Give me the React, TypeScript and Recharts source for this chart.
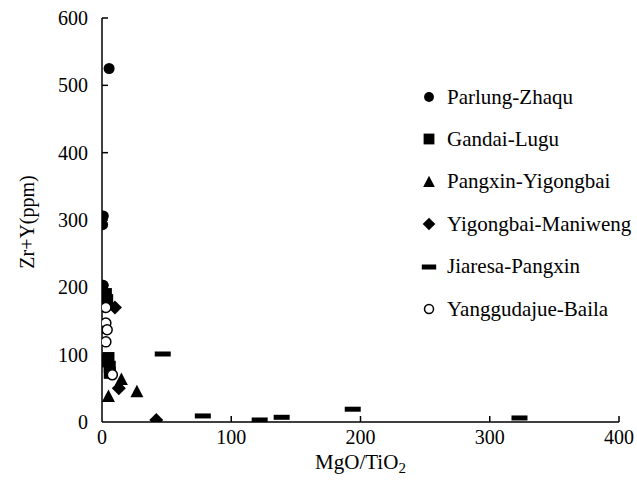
import { ScatterChart, Scatter, XAxis, YAxis } from 'recharts';

// MgO/TiO2 vs Zr+Y (ppm)
const parlungZhaqu = [
  { x: 5.5, y: 525 }, { x: 1, y: 306 }, { x: 0.5, y: 293 }, { x: 1, y: 203 },
  { x: 0.3, y: 192 }, { x: 0.8, y: 186 },
];
const gandaiLugu = [
  { x: 3, y: 190 }, { x: 4, y: 181 }, { x: 1, y: 140 }, { x: 5, y: 95 },
  { x: 2, y: 90 }, { x: 6, y: 82 }, { x: 6, y: 73 },
];
const pangxinYigongbai = [{ x: 5, y: 38 }, { x: 15, y: 63 }, { x: 27, y: 45 }];
const yigongbaiManiweng = [{ x: 10, y: 170 }, { x: 13, y: 50 }, { x: 42, y: 3 }];
const jiaresaPangxin = [
  { x: 47, y: 101 }, { x: 78, y: 9 }, { x: 122, y: 3 }, { x: 139, y: 7 },
  { x: 194, y: 19 }, { x: 323, y: 6 },
];
const yanggudajueBaila = [
  { x: 3, y: 170 }, { x: 3, y: 147 }, { x: 4, y: 137 }, { x: 3, y: 119 }, { x: 8, y: 70 },
];

const xTicks = [0, 100, 200, 300, 400];
const yTicks = [0, 100, 200, 300, 400, 500, 600];

const FONT = '"Liberation Serif", "Times New Roman", serif';

type Kind = 'circle' | 'square' | 'triangle' | 'diamond' | 'dash' | 'open';

function Marker({ kind, cx, cy, s = 1 }: { kind: Kind; cx: number; cy: number; s?: number }) {
  switch (kind) {
    case 'circle':
      return <circle cx={cx} cy={cy} r={5.5 * s} fill="#000" />;
    case 'square':
      return <rect x={cx - 6 * s} y={cy - 6 * s} width={12 * s} height={12 * s} fill="#000" />;
    case 'triangle':
      return (
        <polygon
          points={`${cx},${cy - 7 * s} ${cx + 6.5 * s},${cy + 5.5 * s} ${cx - 6.5 * s},${cy + 5.5 * s}`}
          fill="#000"
        />
      );
    case 'diamond':
      return (
        <polygon
          points={`${cx},${cy - 7 * s} ${cx + 7 * s},${cy} ${cx},${cy + 7 * s} ${cx - 7 * s},${cy}`}
          fill="#000"
        />
      );
    case 'dash':
      return <rect x={cx - 8 * s} y={cy - 2.5} width={16 * s} height={5} fill="#000" />;
    default:
      return <circle cx={cx} cy={cy} r={5 * s} fill="#fff" stroke="#000" strokeWidth={1.5} />;
  }
}

const series: { name: string; data: { x: number; y: number }[]; kind: Kind }[] = [
  { name: 'Parlung-Zhaqu', data: parlungZhaqu, kind: 'circle' },
  { name: 'Gandai-Lugu', data: gandaiLugu, kind: 'square' },
  { name: 'Pangxin-Yigongbai', data: pangxinYigongbai, kind: 'triangle' },
  { name: 'Yigongbai-Maniweng', data: yigongbaiManiweng, kind: 'diamond' },
  { name: 'Jiaresa-Pangxin', data: jiaresaPangxin, kind: 'dash' },
  { name: 'Yanggudajue-Baila', data: yanggudajueBaila, kind: 'open' },
];

const XTick = (props: any) => {
  const { x, y, payload } = props;
  return (
    <g>
      {payload.value !== 0 && <line x1={x} y1={y} x2={x} y2={y - 6} stroke="#000" strokeWidth={1.5} />}
      <text x={x} y={y + 22} textAnchor="middle" fontFamily={FONT} fontSize={20} fill="#000">
        {payload.value}
      </text>
    </g>
  );
};

const YTick = (props: any) => {
  const { x, y, payload } = props;
  return (
    <g>
      {payload.value !== 0 && <line x1={x} y1={y} x2={x + 6} y2={y} stroke="#000" strokeWidth={1.5} />}
      <text x={x - 14} y={y + 7} textAnchor="end" fontFamily={FONT} fontSize={20} fill="#000">
        {payload.value}
      </text>
    </g>
  );
};

function LegendBox() {
  return (
    <div style={{ position: 'absolute', left: 0, top: 0, fontFamily: FONT, fontSize: 21, color: '#000' }}>
      {series.map((s, i) => (
        <div
          key={s.name}
          style={{
            position: 'absolute',
            left: 420,
            top: 97 + i * 42.4 - 12,
            height: 24,
            display: 'flex',
            alignItems: 'center',
            whiteSpace: 'nowrap',
          }}
        >
          <svg width={18} height={18} style={{ marginRight: 9 }}>
            <Marker kind={s.kind} cx={9} cy={9} s={0.9} />
          </svg>
          <span>{s.name}</span>
        </div>
      ))}
    </div>
  );
}

export default function App() {
  return (
    <div style={{ position: 'absolute', left: 0, top: 0, width: 637, height: 488, background: '#fff' }}>
      <ScatterChart width={637} height={488} margin={{ top: 18, right: 18, bottom: 0, left: 0 }}>
        <XAxis
          type="number"
          dataKey="x"
          domain={[0, 400]}
          ticks={xTicks}
          tick={<XTick />}
          tickLine={false}
          tickSize={0}
          tickMargin={0}
          height={66}
          stroke="#000"
          strokeWidth={1.5}
          allowDataOverflow
          label={(p: any) => {
            const vb = p.viewBox;
            return (
              <text x={vb.x + vb.width / 2} y={469} textAnchor="middle" fontFamily={FONT} fontSize={21} fill="#000">
                MgO/TiO<tspan fontSize={15} dy={4}>2</tspan>
              </text>
            );
          }}
        />
        <YAxis
          type="number"
          dataKey="y"
          domain={[0, 600]}
          ticks={yTicks}
          tick={<YTick />}
          tickLine={false}
          tickSize={0}
          tickMargin={0}
          width={102}
          stroke="#000"
          strokeWidth={1.5}
          allowDataOverflow
          label={(p: any) => {
            const vb = p.viewBox;
            const cy = vb.y + vb.height / 2 + 2;
            return (
              <text
                x={27}
                y={cy}
                transform={`rotate(-90, 27, ${cy})`}
                textAnchor="middle"
                dominantBaseline="central"
                fontFamily={FONT}
                fontSize={20}
                fill="#000"
              >
                Zr+Y(ppm)
              </text>
            );
          }}
        />
        {series.map((s) => (
          <Scatter
            key={s.name}
            name={s.name}
            data={s.data}
            isAnimationActive={false}
            shape={(p: any) => <Marker kind={s.kind} cx={p.cx} cy={p.cy} />}
          />
        ))}
      </ScatterChart>
      <LegendBox />
    </div>
  );
}
